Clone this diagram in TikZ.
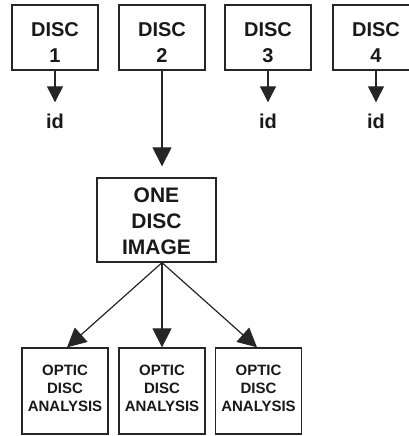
\documentclass[tikz,border=0pt]{standalone}
\usepackage{fontspec}
\setmainfont{Liberation Sans}
\usetikzlibrary{arrows.meta}
\begin{document}
\begin{tikzpicture}[x=1pt,y=-1pt,
  box/.style={draw=black!85,line width=1.3pt,inner sep=0pt},
  topbox/.style={box,minimum width=86pt,minimum height=65pt},
  botbox/.style={box,minimum width=86pt,minimum height=86pt},
  lbl/.style={inner sep=0pt,align=center,text=black!90},
  bigtxt/.style={lbl,font=\bfseries\fontsize{20}{26}\selectfont},
  imgtxt/.style={lbl,font=\bfseries\fontsize{21}{26}\selectfont},
  smalltxt/.style={lbl,font=\bfseries\fontsize{15}{18}\selectfont},
  idtxt/.style={lbl,font=\bfseries\fontsize{20}{24}\selectfont,anchor=base},
  conn/.style={line width=1.2pt,draw=black!85,-{Triangle[length=16pt,width=16pt]}},
  bigconn/.style={line width=1.2pt,draw=black!85,-{Triangle[length=19pt,width=19pt]}}
]
\useasboundingbox[fill=white] (0,0) rectangle (409,436);

% top boxes
\node[topbox] (b1) at (55,37.5) {};
\node[topbox] (b2) at (162,37.5) {};
\node[topbox] (b3) at (268,37.5) {};
\node[topbox] (b4) at (376,37.5) {};
\node[bigtxt] (t1) at (55,43) {DISC\\1};
\node[bigtxt] (t2) at (162,43) {DISC\\2};
\node[bigtxt] (t3) at (268,43) {DISC\\3};
\node[bigtxt] (t4) at (376,43) {DISC\\4};

% id labels
\node[idtxt] (id1) at (55,128) {id};
\node[idtxt] (id3) at (268,128) {id};
\node[idtxt] (id4) at (376,128) {id};

% one disc image
\node[box,minimum width=119pt,minimum height=84pt] (img) at (156.5,220) {};
\node[imgtxt] (timg) at (156.5,221) {ONE\\DISC\\IMAGE};

% bottom boxes
\node[botbox] (a1) at (65,391) {};
\node[botbox] (a2) at (162,391) {};
\node[botbox] (a3) at (258.5,391) {};
\node[smalltxt] (ta1) at (65,388) {OPTIC\\DISC\\ANALYSIS};
\node[smalltxt] (ta2) at (162,388) {OPTIC\\DISC\\ANALYSIS};
\node[smalltxt] (ta3) at (258.5,388) {OPTIC\\DISC\\ANALYSIS};

% connectors
\draw[conn,shorten >=11pt] (b1.south) -- (id1.north);
\draw[conn,shorten >=11pt] (b3.south) -- (id3.north);
\draw[conn,shorten >=11pt] (b4.south) -- (id4.north);
\draw[bigconn,shorten >=11pt] (b2.south) -- (b2.south |- img.north);

\coordinate (hub) at (img.south -| b2.south);
\draw[bigconn] (hub) -- ([xshift=2pt]a1.north);
\draw[bigconn] (hub) -- (a2.north);
\draw[bigconn] (hub) -- ([xshift=-1.5pt]a3.north);
\end{tikzpicture}
\end{document}
